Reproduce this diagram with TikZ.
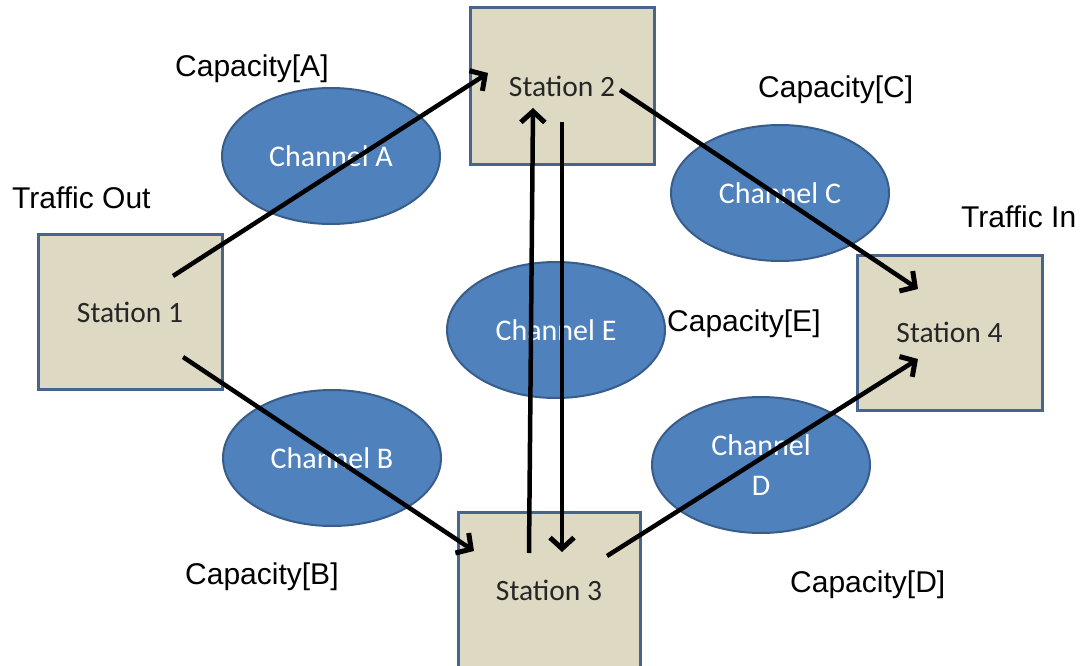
\documentclass[tikz,border=0pt]{standalone}
\usepackage{fontspec}
\setmainfont{Carlito}
\newfontfamily\arialf{Liberation Sans}
\usetikzlibrary{shapes.geometric,arrows.meta}
\definecolor{boxfill}{HTML}{DDD9C3}
\definecolor{boxdraw}{HTML}{46648C}
\definecolor{ellfill}{HTML}{4F81BD}
\definecolor{elldraw}{HTML}{385D8A}
\definecolor{stxt}{HTML}{262626}
\tikzset{
  stationbox/.style={draw=boxdraw, line width=3pt, fill=boxfill, rectangle,
    minimum width=184pt, minimum height=155pt, inner sep=0pt,
    text=stxt, font=\fontsize{29.5}{34}\selectfont},
  stationtext/.style={inner sep=0pt, text=stxt, font=\fontsize{29.5}{34}\selectfont},
  channel/.style={draw=elldraw, line width=2pt, fill=ellfill, ellipse,
    minimum width=218pt, minimum height=136pt, inner sep=0pt, text=white,
    align=center, font=\fontsize{30}{40}\selectfont},
  caplabel/.style={inner sep=0pt, anchor=base west, text=black,
    font=\arialf\fontsize{30}{36}\selectfont},
  flow/.style={line width=4.5pt, black, -{Straight Barb[length=11pt,width=24pt,line width=5pt]}}
}
\begin{document}
\begin{tikzpicture}[x=1pt,y=-1pt]
\useasboundingbox (0,0) rectangle (1084,666);
\clip (0,0) rectangle (1084,666);
\fill[white] (0,0) rectangle (1084,666);
% channels
\node[channel] (chA) at (331,156) {Channel A};
\node[channel] (chB) at (332,458) {Channel B};
\node[channel] (chC) at (780,193) {Channel C};
\node[channel] (chE) at (556,330) {Channel E};
\node[channel] (chD) at (761,465) {Channel\\D};
% stations
\node[stationbox] (s1) at (130,312) {Station 1};
\node[stationbox, minimum height=156pt] (s2) at (562,86) {Station 2};
\node[stationbox, minimum width=182pt, minimum height=170pt] (s3) at (549,597) {};
\node[stationtext] (s3t) at (549,590) {Station 3};
\node[stationbox, minimum width=185pt] (s4) at (949.5,332.5) {Station 4};
% flows
\draw[flow] ([shift={(43,-36)}]s1.center) -- ([shift={(-74,-13)}]s2.center);
\draw[flow] ([shift={(58,4)}]s2.center) -- ([shift={(-31.5,-43.5)}]s4.center);
\draw[flow] ([shift={(53,45)}]s1.center) -- ([shift={(-75,-46)}]s3.center);
\draw[flow] ([shift={(-20,-44)}]s3.center) -- ([shift={(-29,22)}]s2.center);
\draw[flow] ([shift={(0,36)}]s2.center) -- ([shift={(13,-45)}]s3.center);
\draw[flow] ([shift={(58,-41)}]s3.center) -- ([shift={(-31.5,26.5)}]s4.center);
% labels
\node[caplabel] (capA) at (175,77) {Capacity[A]};
\node[caplabel] (tout) at (12,208) {Traffic Out};
\node[caplabel] (capC) at (758,98) {Capacity[C]};
\node[caplabel] (tin) at (961,227) {Traffic In};
\node[caplabel] (capE) at (667,331) {Capacity[E]};
\node[caplabel] (capB) at (185,584) {Capacity[B]};
\node[caplabel] (capD) at (790,592) {Capacity[D]};
\end{tikzpicture}
\end{document}
